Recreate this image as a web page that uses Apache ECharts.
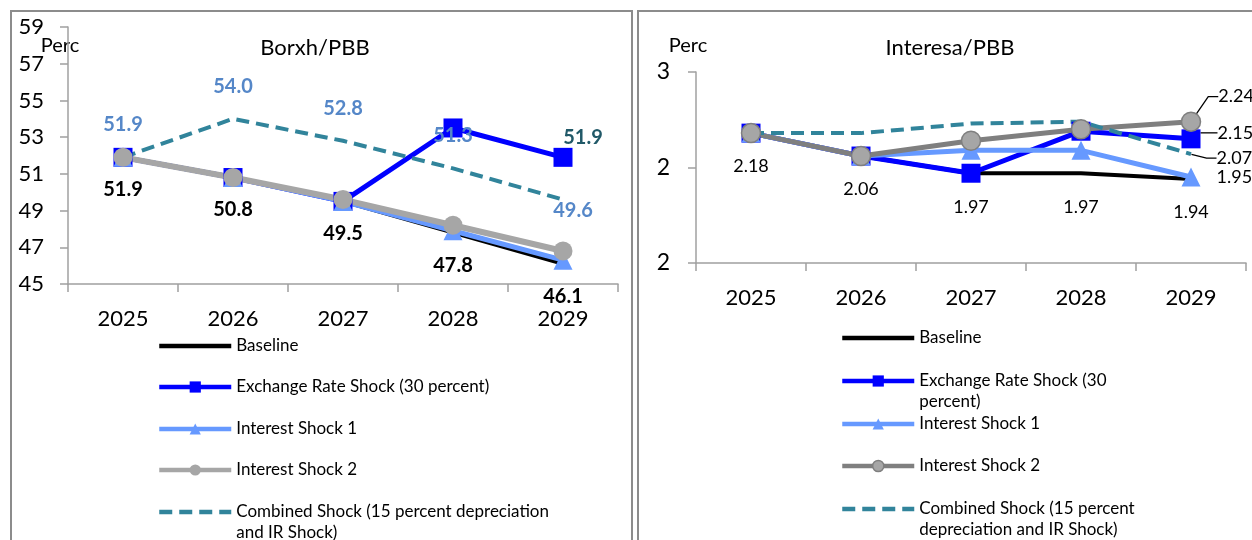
<!DOCTYPE html>
<html><head><meta charset="utf-8">
<script src="https://cdn.jsdelivr.net/npm/echarts@6/dist/echarts.min.js"></script>
<style>html,body{margin:0;padding:0;background:#fff}#c{width:1252px;height:540px}</style>
</head><body><div id="c"></div>
<script>
// ---- data ----
const years = ['2025', '2026', '2027', '2028', '2029'];
const nameBase = 'Baseline';
const nameExch = 'Exchange Rate Shock (30 percent)';
const nameInt1 = 'Interest Shock 1';
const nameInt2 = 'Interest Shock 2';
const nameComb = 'Combined Shock (15 percent depreciation and IR Shock)';

// Left chart: Borxh/PBB
const debtBaseline  = [51.9, 50.8, 49.5, 47.8, 46.1];
const debtExchange  = [51.9, 50.8, 49.5, 53.5, 51.9];
const debtInterest1 = [51.9, 50.8, 49.5, 47.9, 46.3];
const debtInterest2 = [51.9, 50.8, 49.6, 48.2, 46.8];
const debtCombined  = [51.9, 54.0, 52.8, 51.3, 49.6];
const debtTicks = [45, 47, 49, 51, 53, 55, 57, 59];

// Right chart: Interesa/PBB
const intBaseline  = [2.18, 2.06, 1.97, 1.97, 1.94];
const intExchange  = [2.18, 2.06, 1.97, 2.19, 2.15];
const intInterest1 = [2.18, 2.06, 2.09, 2.09, 1.95];
const intInterest2 = [2.18, 2.06, 2.14, 2.20, 2.24];
const intCombined  = [2.18, 2.18, 2.23, 2.24, 2.07];
const intTickValues = [1.5, 2, 2.5];
const intTickLabels = ['2', '2', '3'];

// ---- styling ----
const FONT = 'Lato';
const COL = {
  base: '#000000', exch: '#0000ff', int1: '#6699ff', int2L: '#a6a6a6', int2R: '#7f7f7f',
  comb: '#31849b', combLbl: '#5587c8', exchLbl: '#215968', axis: '#a0a0a0', border: '#8c8c8c'
};
const DASH = [13, 7];
const last = 4;

function xAxis(gi) {
  return {
    type: 'category', gridIndex: gi, data: years, boundaryGap: true,
    axisLine: { lineStyle: { color: COL.axis, width: 1.5 } },
    axisTick: { show: true, length: 8, lineStyle: { color: COL.axis, width: 1.5 } },
    axisLabel: { color: '#000', fontFamily: FONT, fontSize: 22, margin: 24 },
    splitLine: { show: false }
  };
}
const nameStyle = { fontFamily: FONT, fontSize: 20, color: '#000', align: 'center', verticalAlign: 'middle', padding: [0, 16, 0, 0] };

const fmt1 = p => Number(p.value).toFixed(1);
const fmt2 = p => Number(p.value).toFixed(2);
const onlyLast = (arr, lbl) => arr.map((v, i) => i === last ? { value: v, label: Object.assign({ show: true }, lbl || {}) } : v);

const common = { type: 'line', animation: false, emphasis: { disabled: true }, silent: true };

const series = [
  // ----- left -----
  Object.assign({}, common, {
    name: nameBase, xAxisIndex: 0, yAxisIndex: 0, data: debtBaseline,
    symbol: 'circle', symbolSize: 1, itemStyle: { color: 'transparent' },
    lineStyle: { color: COL.base, width: 4 },
    label: { show: true, position: 'bottom', distance: 22, fontFamily: FONT, fontWeight: 'bold', fontSize: 20, color: '#000', formatter: fmt1 }
  }),
  Object.assign({}, common, {
    name: nameExch, xAxisIndex: 0, yAxisIndex: 0, data: onlyLast(debtExchange),
    symbol: 'rect', symbolSize: 19, itemStyle: { color: COL.exch },
    lineStyle: { color: COL.exch, width: 5 },
    label: { show: false, position: 'top', distance: 0, offset: [20, 0], fontFamily: FONT, fontWeight: 'bold', fontSize: 20, color: COL.exchLbl, formatter: fmt1 }
  }),
  Object.assign({}, common, {
    name: nameInt1, xAxisIndex: 0, yAxisIndex: 0, data: debtInterest1,
    symbol: 'triangle', symbolSize: 19, itemStyle: { color: COL.int1 },
    lineStyle: { color: COL.int1, width: 5 }
  }),
  Object.assign({}, common, {
    name: nameInt2, xAxisIndex: 0, yAxisIndex: 0, data: debtInterest2,
    symbol: 'circle', symbolSize: 19, itemStyle: { color: COL.int2L },
    lineStyle: { color: COL.int2L, width: 6 }
  }),
  Object.assign({}, common, {
    name: nameComb, xAxisIndex: 0, yAxisIndex: 0,
    data: debtCombined.map((v, i) => i === last ? { value: v, label: { position: 'bottom', distance: 0, offset: [10, 0] } } : v),
    symbol: 'circle', symbolSize: 1, itemStyle: { color: 'transparent' },
    lineStyle: { color: COL.comb, width: 4, type: DASH },
    label: { show: true, position: 'top', distance: 22, fontFamily: FONT, fontWeight: 'bold', fontSize: 20, color: COL.combLbl, formatter: fmt1 }
  }),
  // ----- right -----
  Object.assign({}, common, {
    name: nameBase, xAxisIndex: 1, yAxisIndex: 1, data: intBaseline,
    symbol: 'circle', symbolSize: 1, itemStyle: { color: 'transparent' },
    lineStyle: { color: COL.base, width: 4 },
    label: { show: true, position: 'bottom', distance: 24, fontFamily: FONT, fontSize: 18, color: '#000', formatter: fmt2 }
  }),
  Object.assign({}, common, {
    name: nameExch, xAxisIndex: 1, yAxisIndex: 1, data: onlyLast(intExchange),
    symbol: 'rect', symbolSize: 19, itemStyle: { color: COL.exch },
    lineStyle: { color: COL.exch, width: 5 },
    label: { show: false, position: 'right', fontFamily: FONT, fontSize: 18, color: '#000', formatter: fmt2 },
    labelLayout: { dx: 12, dy: -6 },
    labelLine: { show: true, length2: 10, lineStyle: { color: '#000', width: 1.3 } }
  }),
  Object.assign({}, common, {
    name: nameInt1, xAxisIndex: 1, yAxisIndex: 1, data: onlyLast(intInterest1),
    symbol: 'triangle', symbolSize: 19, itemStyle: { color: COL.int1 },
    lineStyle: { color: COL.int1, width: 5 },
    label: { show: false, position: 'right', distance: 16, fontFamily: FONT, fontSize: 18, color: '#000', formatter: fmt2 }
  }),
  Object.assign({}, common, {
    name: nameInt2, xAxisIndex: 1, yAxisIndex: 1, data: onlyLast(intInterest2),
    symbol: 'circle', symbolSize: 19, itemStyle: { color: COL.int2L, borderColor: COL.int2R, borderWidth: 1.5 },
    lineStyle: { color: COL.int2R, width: 5 },
    label: { show: false, position: 'right', fontFamily: FONT, fontSize: 18, color: '#000', formatter: fmt2 },
    labelLayout: { dx: 12, dy: -25 },
    labelLine: { show: true, length2: 10, lineStyle: { color: '#000', width: 1.3 } }
  }),
  Object.assign({}, common, {
    name: nameComb, xAxisIndex: 1, yAxisIndex: 1, data: onlyLast(intCombined),
    symbol: 'circle', symbolSize: 1, itemStyle: { color: 'transparent' },
    lineStyle: { color: COL.comb, width: 4, type: DASH },
    label: { show: false, position: 'right', fontFamily: FONT, fontSize: 18, color: '#000', formatter: fmt2 },
    labelLayout: { dx: 20, dy: 4 },
    labelLine: { show: true, length2: 10, lineStyle: { color: '#000', width: 1.3 } }
  })
];

// ---- legends (one component per row for exact placement) ----
const LH = 21;
function legend(name, left, centerY, wrapText, itemOverride) {
  const wrapped = !!wrapText;
  const item = Object.assign({ name: name }, itemOverride || {});
  // wrapped entries: a leading empty line keeps the first text line level with the icon
  return {
    data: [item], left: left, top: centerY - (wrapped ? LH * 1.5 : LH / 2), padding: 0,
    orient: 'vertical', itemWidth: 72, itemHeight: 14, selectedMode: false,
    lineStyle: { width: 4.5 },
    formatter: () => wrapped ? ' \n' + wrapText : name,
    textStyle: { fontFamily: FONT, fontSize: 17, color: '#000', lineHeight: LH }
  };
}
const hideSym = { itemStyle: { color: 'transparent', borderColor: 'transparent' } };
const legends = [
  legend(nameBase, 157, 346, null, hideSym),
  legend(nameExch, 157, 387, null),
  legend(nameInt1, 157, 429, null),
  legend(nameInt2, 157, 470, null),
  legend(nameComb, 157, 512, 'Combined Shock (15 percent depreciation\nand IR Shock)', hideSym),
  legend(nameBase, 840, 338, null, hideSym),
  legend(nameExch, 840, 381, 'Exchange Rate Shock (30\npercent)'),
  legend(nameInt1, 840, 424, null),
  legend(nameInt2, 840, 466, null, { lineStyle: { color: COL.int2R, width: 4.5 }, itemStyle: { color: COL.int2L, borderColor: COL.int2R, borderWidth: 1.5 } }),
  legend(nameComb, 840, 509, 'Combined Shock (15 percent\ndepreciation and IR Shock)', hideSym)
];

const option = {
  backgroundColor: '#fff',
  animation: false,
  textStyle: { fontFamily: FONT },
  grid: [
    { left: 68, top: 27, width: 550, height: 257 },
    { left: 696, top: 72, width: 550, height: 191 }
  ],
  xAxis: [xAxis(0), xAxis(1)],
  yAxis: [
    {
      type: 'value', gridIndex: 0, min: 45, max: 59,
      axisLine: { show: true, lineStyle: { color: COL.axis, width: 1.5 } },
      axisTick: { show: true, length: 8, customValues: debtTicks, lineStyle: { color: COL.axis, width: 1.5 } },
      axisLabel: { customValues: debtTicks, color: '#000', fontFamily: FONT, fontSize: 22, margin: 24 },
      splitLine: { show: false },
      name: 'Perc', nameLocation: 'end', nameGap: -19, nameMoveOverlap: false, nameTextStyle: nameStyle
    },
    {
      type: 'value', gridIndex: 1, min: 1.5, max: 2.5, interval: 0.5,
      axisLine: { show: true, lineStyle: { color: COL.axis, width: 1.5 } },
      axisTick: { show: true, length: 8, lineStyle: { color: COL.axis, width: 1.5 } },
      axisLabel: { color: '#000', fontFamily: FONT, fontSize: 23, margin: 26,
        formatter: v => { const k = intTickValues.findIndex(t => Math.abs(t - v) < 1e-9); return k >= 0 ? intTickLabels[k] : ''; } },
      splitLine: { show: false },
      name: 'Perc', nameLocation: 'end', nameGap: 26, nameMoveOverlap: false, nameTextStyle: nameStyle
    }
  ],
  legend: legends,
  series: series,
  graphic: [
    { type: 'rect', z: -10, shape: { x: 11, y: 11, width: 621, height: 600 }, style: { fill: 'none', stroke: COL.border, lineWidth: 2 }, silent: true },
    { type: 'rect', z: -10, shape: { x: 638, y: 11, width: 700, height: 600 }, style: { fill: 'none', stroke: COL.border, lineWidth: 2 }, silent: true },
    { type: 'text', x: 315, y: 48, style: { text: 'Borxh/PBB', font: '22px Lato', fill: '#000', align: 'center', verticalAlign: 'middle' }, silent: true },
    { type: 'text', x: 950, y: 48, style: { text: 'Interesa/PBB', font: '22px Lato', fill: '#000', align: 'center', verticalAlign: 'middle' }, silent: true }
  ]
};

const chart = echarts.init(document.getElementById('c'), null, { renderer: 'canvas' });
chart.setOption(option);
</script>
</body></html>
